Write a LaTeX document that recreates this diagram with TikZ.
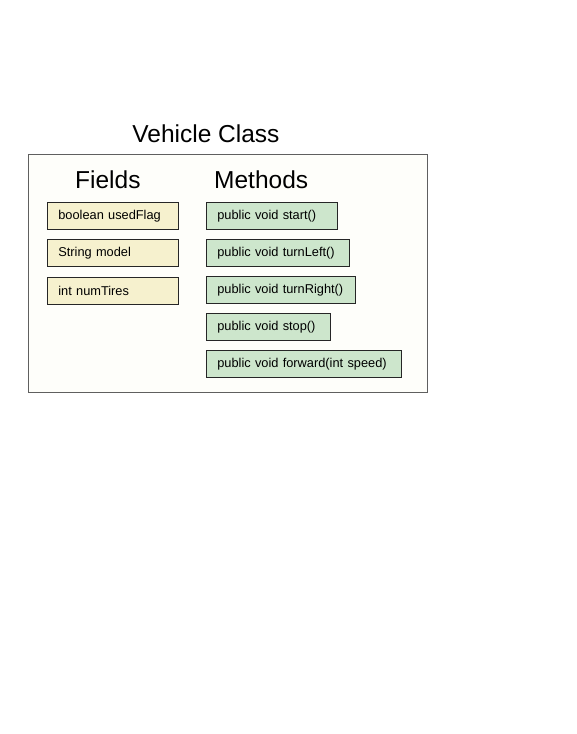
\documentclass[tikz,border=0pt]{standalone}
\usepackage{fontspec}
\setmainfont{Liberation Sans}
\definecolor{fieldfill}{RGB}{246,241,206}
\definecolor{methodfill}{RGB}{205,230,204}
\definecolor{classfill}{RGB}{254,254,250}
\definecolor{classline}{RGB}{95,95,95}
\tikzset{
    member/.style={draw=black!85, line width=0.25mm, anchor=north west, minimum height=27pt,
                   inner xsep=11pt, inner ysep=0pt, align=left, font=\fontsize{12.8}{14}\selectfont},
    field/.style={member, fill=fieldfill, text width=#1},
    method/.style={member, fill=methodfill, text width=#1},
    heading/.style={inner sep=0pt, font=\fontsize{24.5}{28}\selectfont},
}

\begin{document}
\begin{tikzpicture}[x=1pt, y=-1pt]
    \useasboundingbox[fill=white] (0,0) rectangle (576,734);

    \node[heading, anchor=base] (title) at (206, 142) {Vehicle Class};
    \node[draw=classline, fill=classfill, line width=0.3mm, anchor=north west,
          minimum width=399pt, minimum height=238pt] (vehicle) at (28, 154) {};

    \node[heading, anchor=base west] (fields)  at (75, 188)  {Fields};
    \node[heading, anchor=base west] (methods) at (214, 188) {Methods};

    \node[field=109pt] (usedFlag) at (47, 202) {boolean usedFlag};
    \node[field=109pt] (model)    at (47, 239) {String model};
    \node[field=109pt] (numTires) at (47, 277) {int numTires};

    \node[method=109pt] (start)     at (206, 202) {public void start()};
    \node[method=121pt] (turnLeft)  at (206, 239) {public void turnLeft()};
    \node[method=127pt] (turnRight) at (206, 276) {public void turnRight()};
    \node[method=102pt] (stop)      at (206, 313) {public void stop()};
    \node[method=173pt] (forward)   at (206, 350) {public void forward(int speed)};
\end{tikzpicture}
\end{document}
